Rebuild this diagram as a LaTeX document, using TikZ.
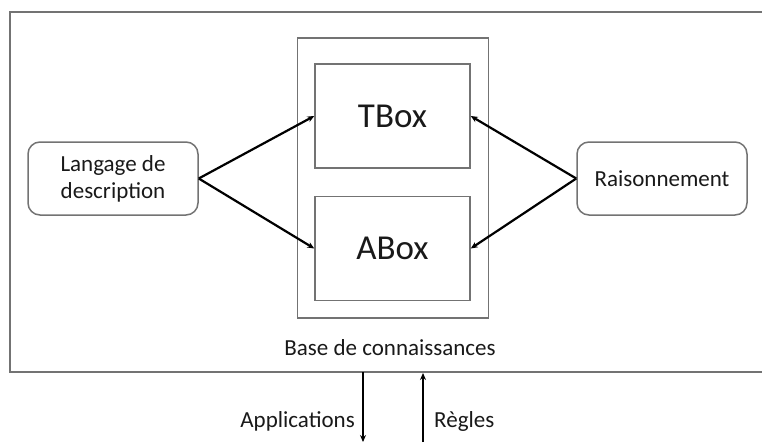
\documentclass[tikz,border=0pt]{standalone}
\usepackage{fontspec}
\setmainfont{Carlito}
\usetikzlibrary{arrows.meta}
\begin{document}
\begin{tikzpicture}[x=1pt,y=-1pt,
  frame/.style={draw=black!55, line width=1.5pt},
  box/.style={frame, minimum width=155pt, minimum height=104pt, inner sep=0pt, text=black!90, font=\fontsize{35}{40}\selectfont},
  rbox/.style={frame, rounded corners=12pt, minimum width=170pt, minimum height=73pt, inner sep=0pt, align=center, text=black!90, font=\fontsize{23}{27}\selectfont},
  lbl/.style={text=black!90, font=\fontsize{23}{27}\selectfont, inner sep=0pt},
  arr/.style={-{Stealth[length=7pt,width=6pt]}, line width=2.2pt}]
\useasboundingbox (0,0) rectangle (762,442);
\draw[frame] (762,12) -- (10,12) -- (10,372) -- (762,372);
\node[frame, minimum width=191pt, minimum height=280pt, inner sep=0pt] (kb) at (393,178) {};
\node[box] (tbox) at (392.5,116) {TBox};
\node[box] (abox) at (392.5,248.5) {ABox};
\node[rbox] (lang) at (113,178.5) {Langage de\\description};
\node[rbox] (rais) at (662,178.5) {Raisonnement};
\node[lbl] (base) at (390,348) {Base de connaissances};
\draw[arr] (lang.east) -- (tbox.west);
\draw[arr] (lang.east) -- (abox.west);
\draw[arr] (rais.west) -- (tbox.east);
\draw[arr] (rais.west) -- (abox.east);
\coordinate (appTop) at (363,372);
\coordinate (appBot) at (363,442);
\coordinate (regBot) at (423,442);
\coordinate (regTop) at (423,373);
\draw[arr] (appTop) -- (appBot);
\draw[arr] (regBot) -- (regTop);
\node[lbl, anchor=east] (app) at (355,421) {Applications};
\node[lbl, anchor=west] (reg) at (434,421) {Règles};
\end{tikzpicture}
\end{document}
